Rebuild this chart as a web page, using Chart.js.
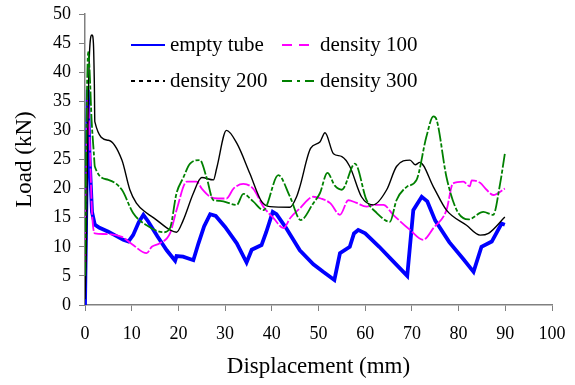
<!DOCTYPE html>
<html>
<head>
<meta charset="utf-8">
<script src="https://cdn.jsdelivr.net/npm/chart.js@4"></script>
<style>
html,body{margin:0;padding:0;background:#fff;}
#wrap{width:575px;height:385px;}
</style>
</head>
<body>
<div id="wrap"><canvas id="c" width="575" height="385"></canvas></div>
<script>
// ---- data ----
const seriesNames = ["empty tube", "density 100", "density 200", "density 300"];
const xTicks = [0,10,20,30,40,50,60,70,80,90,100];
const yTicks = [0,5,10,15,20,25,30,35,40,45,50];

const emptyX = [0,0.3,0.6,1.0,1.5,2.1,3,5,8.2,9.3,10.3,11.5,12.5,13.5,15.5,17.5,19.3,19.6,21,23.2,24.3,25.5,26.8,28,30,32.5,34.6,35.7,37.8,38.8,40.2,41,43,46,48.9,51,53.4,54.6,56.7,57.6,58.5,60,63,66,69,70.3,72.1,73.3,75,78,81,83.2,84.9,87.1,89.2,89.9];
const emptyY = [0,18,37,25,16,13.8,13.3,12.6,11.2,10.9,12.0,14.2,15.5,14.4,11.8,9.4,7.6,8.4,8.3,7.7,10.6,13.5,15.6,15.3,13.4,10.6,7.3,9.5,10.3,12.5,16.0,15.6,13.3,9.4,7.0,5.7,4.3,8.9,10.0,12.3,12.9,12.3,10.0,7.5,5.0,16.3,18.6,17.8,14.5,10.8,7.9,5.7,10.0,10.9,14.0,13.8];

const d100X = [0,0.3,0.6,1.0,1.5,2.1,4,7.9,10,13.2,14.3,16,18.2,19.6,21.8,23.9,25,26.8,28.5,30.3,31.8,33.9,36.0,38.2,40.5,42.5,44,46,48.9,50.5,52.5,54.6,56.4,58,60.3,62,63.9,66,69.6,72.4,74.6,77.4,78.8,81,82.4,82.8,84.6,86,87.4,89.9];
const d100Y = [4,20,35.7,28,16,12.3,12.2,11.7,10.5,8.9,10,10.6,12.3,16.3,21.2,21.2,20,18.6,18.3,18.3,20,20.8,20,16.9,14.8,13.2,15.0,16.6,18.6,18.3,17.5,15.5,18,17.6,16.9,17.2,17.2,15.5,12.9,11.2,13.2,16.3,20.9,21.2,20.4,21.4,21.0,19.8,18.9,20.0];

const d200X = [0,0.3,0.6,1.0,1.5,1.8,2.0,2.1,5,7.9,9.6,11,13.2,15,18.2,19.6,21,23.2,25,27.5,28.2,30.3,32.5,35.3,37.8,39.6,43.9,45.3,46,48.3,50.3,51.4,53.2,55,56.7,59.2,61.7,64.6,66.7,69.6,70.7,71.7,74.6,77.4,81.7,84.6,86.4,89.9];
const d200Y = [1,10,30,44,46.4,45,38,31.5,28.3,24.9,19.8,17.5,15.8,14.8,12.9,12.5,14.5,19.2,21.9,21.5,23.5,30,27.8,22.6,17.8,16.9,16.8,18.6,20.3,26.9,28,29.6,26,25.5,23.8,18.6,17.2,19.8,23.8,24.9,24.1,24.5,20.3,16.3,13.7,12.0,12.3,15.1];

const d300X = [0,0.3,0.7,1.0,1.4,1.9,2.1,5,7.9,10.3,13.2,16.8,18.2,19.6,21,22.5,24.6,26,27.5,28.9,32.5,33.9,36,38.2,41.4,43.9,46.2,48.9,50.3,51.9,53.5,55,57.8,60.3,62.5,65.3,66.7,68.9,71,73.1,74.6,75.3,77.4,79.6,82.1,85.3,87.4,88.9,89.9];
const d300Y = [5,30,43.5,40,32,26,23.8,21.5,19.8,15.8,13.7,12.5,13.2,19.2,21.8,24.3,24.9,22,18,17.9,17.2,19.1,17.8,16.3,22.3,18.6,14.6,17.5,19.2,22.7,20.5,19.8,24.3,18,15.8,14.3,18,20.3,21.5,28.9,32.4,31.8,22.0,16.3,14.7,16.0,15.5,20.9,26];

function pts(xs, ys){ return xs.map((x,i)=>({x:x, y:ys[i]})); }

const FONT = "'Liberation Serif', 'Times New Roman', serif";

const legendPlugin = {
  id: 'customLegend',
  afterDraw(chart){
    const ctx = chart.ctx;
    const slots = [
      {lx:131, lw:34, tx:170, y:45},
      {lx:282, lw:32, tx:320, y:45},
      {lx:131, lw:34, tx:170, y:81},
      {lx:282, lw:32, tx:320, y:81}
    ];
    chart.data.datasets.forEach((ds, i) => {
      const s = slots[i];
      ctx.save();
      ctx.strokeStyle = ds.borderColor;
      ctx.lineWidth = ds.legendWidth;
      ctx.setLineDash(ds.legendDash);
      ctx.beginPath();
      ctx.moveTo(s.lx, s.y);
      ctx.lineTo(s.lx + s.lw, s.y);
      ctx.stroke();
      ctx.setLineDash([]);
      ctx.fillStyle = '#000';
      ctx.font = "21px " + FONT;
      ctx.textBaseline = 'middle';
      ctx.textAlign = 'left';
      ctx.fillText(ds.label, s.tx, s.y);
      ctx.restore();
    });
  }
};

function noPad(scale){ scale.paddingTop = 0; scale.paddingBottom = 0; scale.paddingLeft = 0; scale.paddingRight = 0; }

new Chart(document.getElementById('c'), {
  type: 'line',
  data: {
    datasets: [
      {label: seriesNames[0], data: pts(emptyX, emptyY), borderColor: '#0000ff', borderWidth: 3.8, legendWidth: 2, legendDash: [], order: 4},
      {label: seriesNames[1], data: pts(d100X, d100Y), borderColor: '#ff00ff', borderWidth: 1.8, borderDash: [14,2], cubicInterpolationMode: 'monotone', legendWidth: 2, legendDash: [10,7], order: 3},
      {label: seriesNames[2], data: pts(d200X, d200Y), borderColor: '#000000', borderWidth: 1.4, cubicInterpolationMode: 'monotone', legendWidth: 2, legendDash: [4,4], order: 2},
      {label: seriesNames[3], data: pts(d300X, d300Y), borderColor: '#008000', borderWidth: 1.8, borderDash: [14,2,4,2], cubicInterpolationMode: 'monotone', legendWidth: 2, legendDash: [10,5,3,5], order: 1}
    ]
  },
  options: {
    responsive: false,
    animation: false,
    devicePixelRatio: 1,
    elements: { point: { radius: 0 }, line: { tension: 0, fill: false } },
    layout: { padding: { top: 14, right: 23, left: 0, bottom: 0 } },
    plugins: { legend: { display: false }, tooltip: { enabled: false } },
    scales: {
      x: {
        type: 'linear', min: 0, max: 100,
        afterBuildTicks(scale){ scale.ticks = xTicks.map(v => ({value: v})); },
        afterFit(scale){ scale.height = 80; noPad(scale); },
        grid: { drawOnChartArea: false, drawTicks: true, tickLength: 6, color: '#808080', lineWidth: 1 },
        border: { color: '#808080', width: 1.5 },
        ticks: { color: '#000', font: { family: FONT, size: 18 }, padding: 12, maxRotation: 0, autoSkip: false },
        title: { display: true, text: 'Displacement (mm)', color: '#000', font: { family: FONT, size: 23 }, padding: { top: 0, bottom: 4 } }
      },
      y: {
        type: 'linear', min: 0, max: 50,
        afterBuildTicks(scale){ scale.ticks = yTicks.map(v => ({value: v})); },
        afterFit(scale){ scale.width = 85; noPad(scale); },
        grid: { drawOnChartArea: false, drawTicks: true, tickLength: 6, color: '#808080', lineWidth: 1 },
        border: { color: '#808080', width: 1.5 },
        ticks: { color: '#000', font: { family: FONT, size: 18 }, padding: 8, autoSkip: false },
        title: { display: true, text: 'Load (kN)', color: '#000', font: { family: FONT, size: 23 }, padding: { top: 11, bottom: 0 } }
      }
    }
  },
  plugins: [legendPlugin]
});
</script>
</body>
</html>
